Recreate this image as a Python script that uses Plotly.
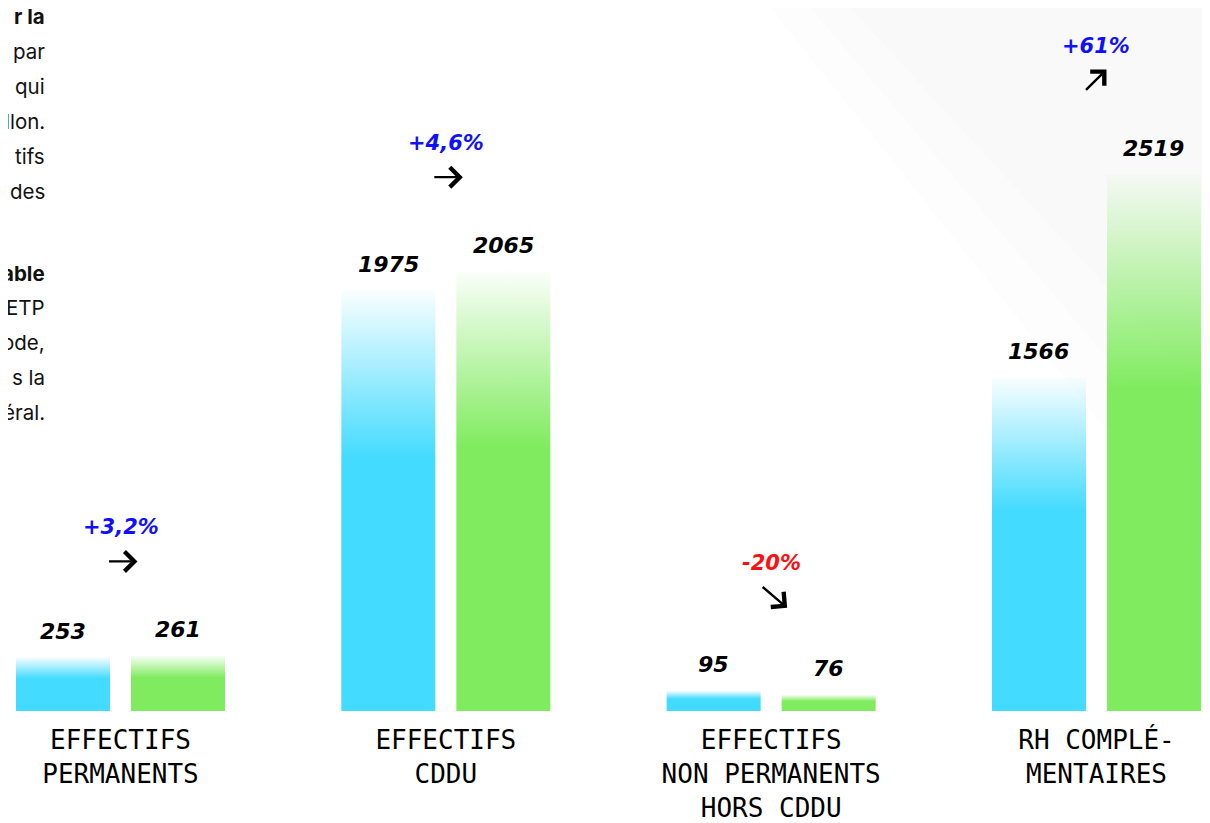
import plotly.graph_objects as go

# ---- data ----
categories = ["EFFECTIFS<br>PERMANENTS", "EFFECTIFS<br>CDDU",
              "EFFECTIFS<br>NON PERMANENTS<br>HORS CDDU", "RH COMPLÉ-<br>MENTAIRES"]
before = [253, 1975, 95, 1566]
after = [261, 2065, 76, 2519]
changes = ["+3,2%", "+4,6%", "-20%", "+61%"]
side_para1 = ["r la", "par", "qui", "llon.", "tifs", "des"]
side_para2 = ["able", "ETP", "ode,", "s la", "éral."]

# ---- style / geometry (page px minus the 8px body margin) ----
PAGE_OFF = 8
W, H = 1210 - PAGE_OFF, 823 - PAGE_OFF
BLUE = "rgb(67,219,255)"
GREEN = "rgb(128,235,95)"
BLUE_T = "rgba(67,219,255,0.03)"
GREEN_T = "rgba(128,235,95,0.03)"
UNIT = 325.33                       # px per category step
X0 = 120.5 - PAGE_OFF               # px of first group centre
BAR_W = 94 / UNIT
OFF = 57.5 / UNIT
PLOT_H = 711 - PAGE_OFF             # baseline
PX_PER_VAL = 0.213

fig = go.Figure()

def bar_poly(xc, v):
    xl, xr = xc - BAR_W / 2, xc + BAR_W / 2
    return [xl, xr, xr, xl, xl], [0, 0, v, v, 0]

for i in range(len(categories)):
    for vals, col, colt, sgn in ((before, BLUE, BLUE_T, -1), (after, GREEN, GREEN_T, 1)):
        xs, ys = bar_poly(i + sgn * OFF, vals[i])
        fig.add_trace(go.Scatter(
            x=xs, y=ys, mode="lines", fill="toself",
            line=dict(width=0, color="rgba(0,0,0,0)"),
            fillcolor=col,
            fillgradient=dict(type="vertical",
                              colorscale=[[0, col], [0.6, col], [1, colt]]),
            hoverinfo="skip", showlegend=False))

annotations = []
for i in range(len(categories)):
    for vals, sgn in ((before, -1), (after, 1)):
        annotations.append(dict(
            x=i + sgn * OFF, y=vals[i], xref="x", yref="y",
            text=str(vals[i]), showarrow=False, yanchor="middle", yshift=26,
            font=dict(family="DejaVu Sans", size=22, color="black",
                      weight="bold", style="italic")))
    top = max(before[i], after[i])
    pct = after[i] / before[i] - 1
    color = "#ff1010" if changes[i].startswith("-") else "#1010ff"
    annotations.append(dict(
        x=i, y=top, xref="x", yref="y", text=changes[i], showarrow=False,
        yanchor="middle", yshift=128,
        font=dict(family="DejaVu Sans", size=21, color=color,
                  weight="bold", style="italic")))
    # trend arrow (open chevron head)
    if pct < 0:
        ax, ay, xs_, ys_ = -26, -22, 16, 94 - 11
    elif pct > 0.3:
        ax, ay, xs_, ys_ = -22, 22, 10, 94 + 11
    else:
        ax, ay, xs_, ys_ = -30, 0, 17, 94
    annotations.append(dict(
        x=i, y=top, xref="x", yref="y", text="", showarrow=True,
        ax=ax, ay=ay, axref="pixel", ayref="pixel",
        xshift=xs_, yshift=ys_,
        arrowhead=4, arrowsize=1.6, arrowwidth=2.4, arrowcolor="black"))

# side paragraph (cut-off text on the left)
STEP = 34.8
def side_line(t, py, bold):
    return dict(
        x=(47 - PAGE_OFF) / W, y=(PLOT_H - (py - PAGE_OFF)) / PLOT_H,
        xref="paper", yref="paper",
        text=t, showarrow=False, xanchor="right", yanchor="middle",
        font=dict(family="Inter", size=20.5, color="#111",
                  weight="bold" if bold else "normal"))
for k, t in enumerate(side_para1):
    annotations.append(side_line(t, 17 + k * STEP, k == 0))
for k, t in enumerate(side_para2):
    annotations.append(side_line(t, 273 + k * STEP, k == 0))

# faint textured corner (top right)
shapes = []
for (xa, yb) in ((770, 560), (810, 480), (850, 400)):
    shapes.append(dict(
        type="path", xref="paper", yref="paper", layer="below",
        path=f"M {(xa - PAGE_OFF)/W} 1 L 1 1 L 1 {(PLOT_H-(yb - PAGE_OFF))/PLOT_H} Z",
        fillcolor="rgba(0,0,0,0.009)", line=dict(width=0)))

fig.update_layout(
    width=W, height=H,
    margin=dict(l=0, r=0, t=0, b=H - PLOT_H),
    paper_bgcolor="white", plot_bgcolor="white",
    showlegend=False,
    annotations=annotations, shapes=shapes,
    xaxis=dict(range=[-X0 / UNIT, 3 + (W - (X0 + 3 * UNIT)) / UNIT],
               tickvals=list(range(len(categories))), ticktext=categories,
               showgrid=False, zeroline=False, showline=False,
               ticks="outside", ticklen=6, tickcolor="rgba(0,0,0,0)",
               automargin=False,
               tickfont=dict(family="DejaVu Sans Mono", size=26, color="black"),
               fixedrange=True),
    yaxis=dict(range=[0, PLOT_H / PX_PER_VAL], visible=False, fixedrange=True,
               automargin=False),
)

fig.write_html("out.html")
